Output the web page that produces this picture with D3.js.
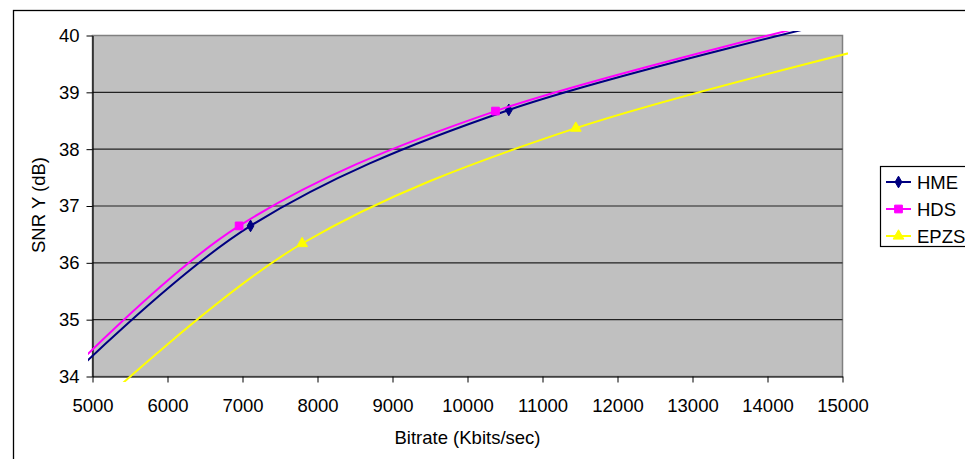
<!DOCTYPE html>
<html>
<head>
<meta charset="utf-8">
<script src="https://cdn.jsdelivr.net/npm/d3@7"></script>
<style>
  html, body { margin: 0; padding: 0; background: #fff; }
  svg { display: block; }
  text { font-family: "Liberation Sans", Arial, sans-serif; fill: #000; }
</style>
</head>
<body>
<svg id="chart" width="965" height="459"></svg>
<script>
// ---- data ----
const seriesNames = ["HME", "HDS", "EPZS"];
const hmeBitrate = [4500, 7107, 10551, 15400];
const hmeSNR     = [33.73, 36.65, 38.69, 40.40];
const hdsBitrate = [4450, 6955, 10373, 15300];
const hdsSNR     = [33.75, 36.65, 38.67, 40.42];
const epzsBitrate = [5000, 7795, 11444, 16500];
const epzsSNR     = [33.40, 36.34, 38.37, 40.15];
const xTicks = [5000, 6000, 7000, 8000, 9000, 10000, 11000, 12000, 13000, 14000, 15000];
const yTicks = [34, 35, 36, 37, 38, 39, 40];
const xTitle = "Bitrate (Kbits/sec)";
const yTitle = "SNR Y (dB)";

const colors = { HME: "#000080", HDS: "#FF00FF", EPZS: "#FFFF00" };
const symbols = { HME: d3.symbolDiamond, HDS: d3.symbolSquare, EPZS: d3.symbolTriangle };
const symSize = { HME: 40, HDS: 60, EPZS: 50 };

const series = [
  { name: "HME",  pts: hmeBitrate.map((b, i) => [b, hmeSNR[i]]) },
  { name: "HDS",  pts: hdsBitrate.map((b, i) => [b, hdsSNR[i]]) },
  { name: "EPZS", pts: epzsBitrate.map((b, i) => [b, epzsSNR[i]]) }
];

const svg = d3.select("#chart");
const L = 92.5, R = 842.5, T = 35.5, B = 376.5;
const x = d3.scaleLinear().domain([5000, 15000]).range([L, R]);
const y = d3.scaleLinear().domain([34, 40]).range([B, T]);
const FS = "18.5px";

// chart border
svg.append("rect").attr("x", 13.5).attr("y", 10.5).attr("width", 1000).attr("height", 500)
  .attr("fill", "#fff").attr("stroke", "#000").attr("stroke-width", 1.3);

// plot area
svg.append("rect").attr("x", L).attr("y", T).attr("width", R - L).attr("height", B - T)
  .attr("fill", "#C0C0C0").attr("stroke", "#808080").attr("stroke-width", 1.5);

// gridlines
svg.append("g").selectAll("line").data(yTicks.filter(v => v > 34 && v < 40)).join("line")
  .attr("x1", L).attr("x2", R).attr("y1", d => y(d)).attr("y2", d => y(d))
  .attr("stroke", "#222").attr("stroke-width", 1.2);

// axes
const xAxis = d3.axisBottom(x).tickValues(xTicks).tickSize(6).tickSizeOuter(0).tickFormat(d3.format("d"));
const gx = svg.append("g").attr("transform", `translate(0,${B})`).call(xAxis);
gx.select(".domain").attr("stroke", "#000").attr("stroke-width", 1.2);
gx.selectAll(".tick line").attr("stroke", "#000");
gx.selectAll(".tick text").attr("font-size", FS).attr("font-family", "Liberation Sans, Arial, sans-serif")
  .attr("y", 0).attr("dy", null).attr("transform", "translate(0,35.5)").attr("fill", "#000");

const yAxis = d3.axisLeft(y).tickValues(yTicks).tickSize(6).tickSizeOuter(0).tickFormat(d3.format("d"));
const gy = svg.append("g").attr("transform", `translate(${L},0)`).call(yAxis);
gy.select(".domain").attr("stroke", "#000").attr("stroke-width", 1.2);
gy.selectAll(".tick line").attr("stroke", "#000");
gy.selectAll(".tick text").attr("font-size", FS).attr("font-family", "Liberation Sans, Arial, sans-serif")
  .attr("x", -13).attr("fill", "#000");

// titles
svg.append("text").attr("x", (L + R) / 2).attr("y", 444).attr("text-anchor", "middle")
  .attr("font-size", FS).text(xTitle);
svg.append("text").attr("transform", "translate(45,205) rotate(-90)").attr("text-anchor", "middle")
  .attr("font-size", FS).text(yTitle);

// clip
svg.append("defs").append("clipPath").attr("id", "clip")
  .append("rect").attr("x", L - 4.5).attr("y", T - 4.5).attr("width", R - L + 10).attr("height", B - T + 10);

const line = d3.line().x(d => x(d[0])).y(d => y(d[1])).curve(d3.curveCardinal.tension(0));
const plot = svg.append("g").attr("clip-path", "url(#clip)");
series.forEach(s => {
  plot.append("path").datum(s.pts).attr("d", line).attr("fill", "none")
    .attr("stroke", colors[s.name]).attr("stroke-width", 2);
  plot.selectAll(null).data(s.pts).join("path")
    .attr("transform", d => `translate(${x(d[0])},${y(d[1])})`)
    .attr("d", d3.symbol().type(symbols[s.name]).size(symSize[s.name]))
    .attr("fill", colors[s.name]).attr("stroke", colors[s.name]).attr("stroke-width", 1);
});

// legend
const lg = svg.append("g");
lg.append("rect").attr("x", 880.5).attr("y", 166.5).attr("width", 120).attr("height", 80)
  .attr("fill", "#fff").attr("stroke", "#000").attr("stroke-width", 1.2);
const rowY = [182, 209, 236];
seriesNames.forEach((n, i) => {
  const cy = rowY[i];
  lg.append("line").attr("x1", 886).attr("x2", 911).attr("y1", cy).attr("y2", cy)
    .attr("stroke", colors[n]).attr("stroke-width", 2);
  lg.append("path").attr("transform", `translate(898.5,${cy})`)
    .attr("d", d3.symbol().type(symbols[n]).size(symSize[n]))
    .attr("fill", colors[n]).attr("stroke", colors[n]).attr("stroke-width", 1);
  lg.append("text").attr("x", 917).attr("y", cy + 6.5).attr("font-size", FS).text(n);
});
</script>
</body>
</html>
